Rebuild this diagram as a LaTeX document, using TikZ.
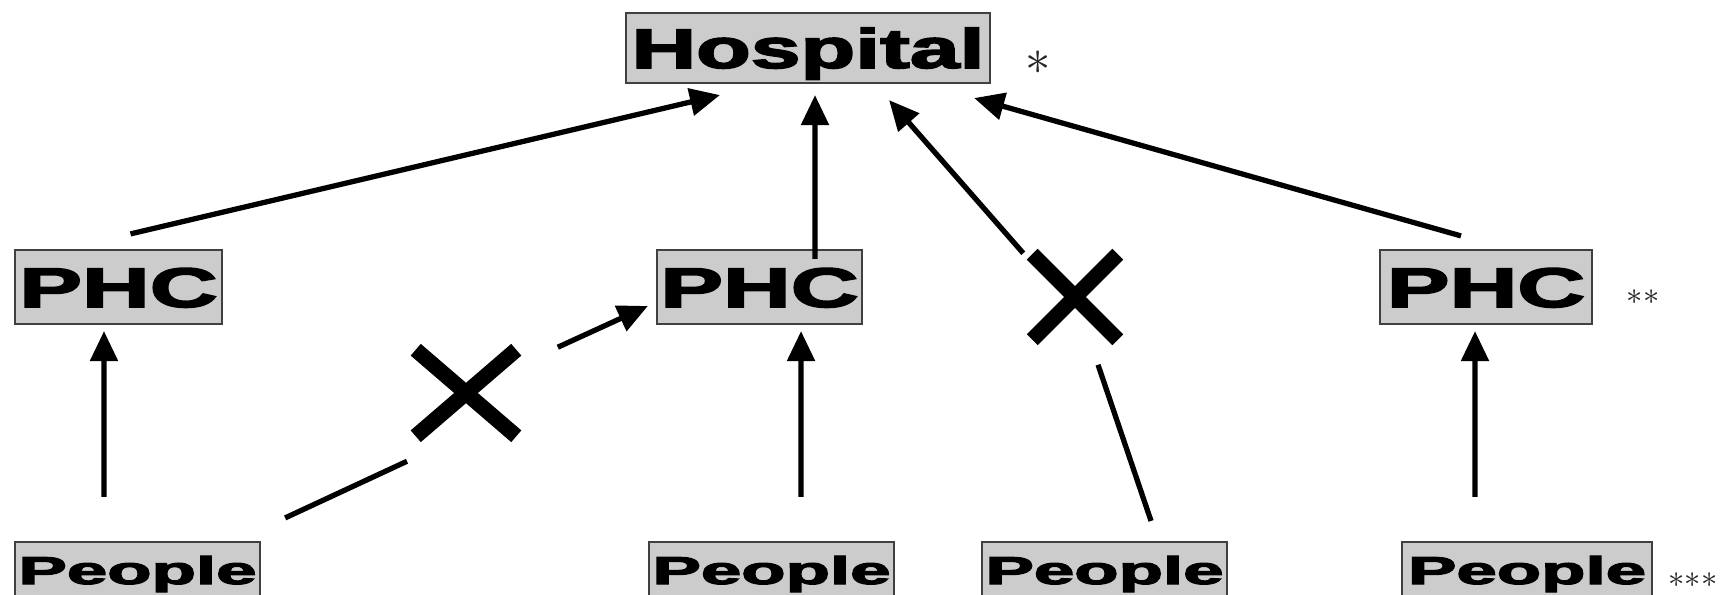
\documentclass[tikz,border=0pt]{standalone}
\usepackage{fontspec}
\usepackage{graphicx}
\usetikzlibrary{arrows.meta,shapes.misc}
\newfontfamily\heavy[FakeBold=2.6]{Liberation Sans Bold}
\newcommand{\wide}[2]{\scalebox{#1}[1]{#2}}

\tikzset{
  box/.style={draw=black!75, line width=0.6pt, fill=black!20, inner sep=0pt, text depth=0pt},
  hosp/.style={box, minimum width=3.63cm, minimum height=0.70cm, text height=11.4pt,
    font=\heavy\fontsize{15.9}{16}\selectfont},
  phc/.style={box, minimum height=0.74cm, text height=11.4pt,
    font=\heavy\fontsize{15.9}{16}\selectfont},
  people/.style={box, minimum width=2.45cm, minimum height=0.56cm, text height=8pt,
    font=\heavy\fontsize{11.1}{12}\selectfont},
  cross/.style={cross out, draw, line width=4.4pt, inner sep=0pt},
  arr/.style={-{Triangle[length=0.3cm,width=0.27cm]}, line width=1.5pt},
  link/.style={line width=1.5pt},
  star/.style={text=black!85, inner sep=0pt}
}

\begin{document}
\begin{tikzpicture}[x=0.01cm, y=-0.01cm]
  \path[use as bounding box] (0,0) rectangle (1725,595);
  \clip (0,0) rectangle (1725,595);

  % top
  \node[hosp] (hosp) at (808,48) {\wide{1.6}{Hospital}};
  \node[star, font=\Large] (s1) at (1038,63) {$\ast$};

  % middle row
  \node[phc, minimum width=2.07cm] (phc1) at (118.5,287) {\wide{1.68}{PHC}};
  \node[phc, minimum width=2.05cm] (phc2) at (759.5,287) {\wide{1.68}{PHC}};
  \node[phc, minimum width=2.12cm] (phc3) at (1486,287) {\wide{1.68}{PHC}};
  \node[star, font=\small] (s2) at (1643,297) {${\ast}{\ast}$};

  % bottom row
  \node[people] (pe1) at (137.5,570) {\wide{1.86}{People}};
  \node[people] (pe2) at (771.5,570) {\wide{1.86}{People}};
  \node[people] (pe3) at (1104.5,570) {\wide{1.86}{People}};
  \node[people, minimum width=2.50cm] (pe4) at (1527,570) {\wide{1.86}{People}};
  \node[star, font=\small] (s3) at (1693,580) {${\ast}{\ast}{\ast}$};

  % blocked ways
  \node[cross, minimum width=0.85cm, minimum height=0.71cm] (x1) at (466,393) {};
  \node[cross, minimum width=0.70cm, minimum height=0.70cm] (x2) at (1075,297) {};

  % PHC -> hospital
  \draw[arr] ([xshift=0.12cm,yshift=0.15cm]phc1.north) -- ([xshift=-0.88cm,yshift=-0.11cm]hosp.south);
  \draw[arr] ([xshift=0.555cm,yshift=-0.1cm]phc2.north) -- ([xshift=0.07cm,yshift=-0.11cm]hosp.south);
  \draw[arr] ([xshift=-0.25cm,yshift=0.13cm]phc3.north) -- ([xshift=-0.165cm,yshift=-0.14cm]hosp.south east);

  % people -> PHC
  \draw[arr] ([xshift=-0.335cm,yshift=0.44cm]pe1.north) -- ([xshift=-0.145cm,yshift=-0.06cm]phc1.south);
  \draw[arr] ([xshift=0.295cm,yshift=0.44cm]pe2.north) -- ([xshift=0.415cm,yshift=-0.06cm]phc2.south);
  \draw[arr] ([xshift=-0.52cm,yshift=0.44cm]pe4.north) -- ([xshift=-0.11cm,yshift=-0.06cm]phc3.south);

  % crossed out
  \draw[link] ([xshift=0.24cm,yshift=0.23cm]pe1.north east) -- ([xshift=-0.59cm,yshift=-0.25cm]x1.south);
  \draw[arr] ([xshift=0.415cm,yshift=0.025cm]x1.north east) -- ([xshift=-0.08cm,yshift=-0.19cm]phc2.west);
  \draw[link] ([xshift=0.465cm,yshift=0.2cm]pe3.north) -- ([xshift=0.23cm,yshift=-0.25cm]x2.south);
  \draw[arr] ([xshift=-0.09cm,yshift=0.01cm]x2.north west) -- ([xshift=0.81cm,yshift=-0.16cm]hosp.south);
\end{tikzpicture}
\end{document}
